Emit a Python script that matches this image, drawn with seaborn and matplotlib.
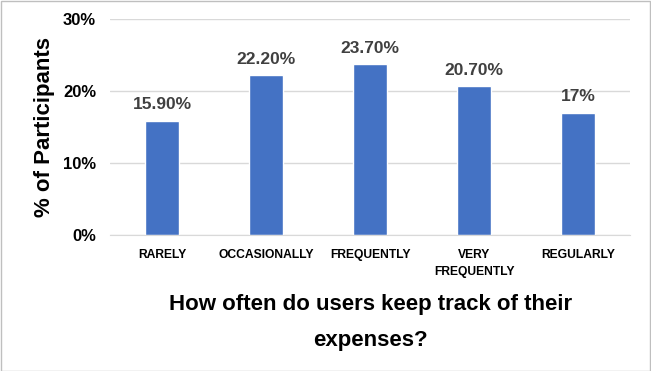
import matplotlib
matplotlib.use('Agg')
import matplotlib.pyplot as plt
import seaborn as sns
import pandas as pd

categories = ['RARELY', 'OCCASIONALLY', 'FREQUENTLY', 'VERY\nFREQUENTLY', 'REGULARLY']
values = [15.9, 22.2, 23.7, 20.7, 17.0]
value_labels = ['15.90%', '22.20%', '23.70%', '20.70%', '17%']

sns.set_style('white')
plt.rcParams['font.family'] = ['Liberation Sans', 'DejaVu Sans']

df = pd.DataFrame({'freq': categories, 'pct': values})

fig = plt.figure(figsize=(6.51, 3.71), dpi=100)
ax = fig.add_axes([0.169, 0.366, 0.799, 0.583])
sns.barplot(data=df, x='freq', y='pct', color='#4472C4', saturation=1, width=0.33, ax=ax)

ax.set_ylim(0, 30)
ax.set_yticks([0, 10, 20, 30])
ax.set_yticklabels(['0%', '10%', '20%', '30%'], fontsize=12, fontweight='bold', color='black')
ax.tick_params(axis='x', labelsize=8.7, length=0, pad=10, labelcolor='black')
for t in ax.get_xticklabels():
    t.set_fontweight('bold')
    t.set_linespacing(1.5)
ax.tick_params(axis='y', length=0, pad=10)
ax.yaxis.grid(True, color='#D9D9D9', linewidth=1)
ax.set_axisbelow(True)
for s in ['top', 'right', 'left']:
    ax.spines[s].set_visible(False)
ax.spines['bottom'].set_color('#D9D9D9')

for p, lab in zip(ax.patches, value_labels):
    ax.annotate(lab, (p.get_x() + p.get_width() / 2, p.get_height()), xytext=(0, 6),
                textcoords='offset points', ha='center', va='bottom',
                fontsize=12.5, fontweight='bold', color='#404040')

ax.set_ylabel('% of Participants', fontsize=16, fontweight='bold', labelpad=6, color='black')
ax.set_xlabel('How often do users keep track of their\nexpenses?', fontsize=16,
              fontweight='bold', labelpad=12, linespacing=1.95, color='black')

fig.patches.append(plt.Rectangle((0.001, 0.001), 0.997, 0.996, transform=fig.transFigure,
                                 fill=False, edgecolor='#BFBFBF', linewidth=1))
fig.savefig('out.png', dpi=100)
